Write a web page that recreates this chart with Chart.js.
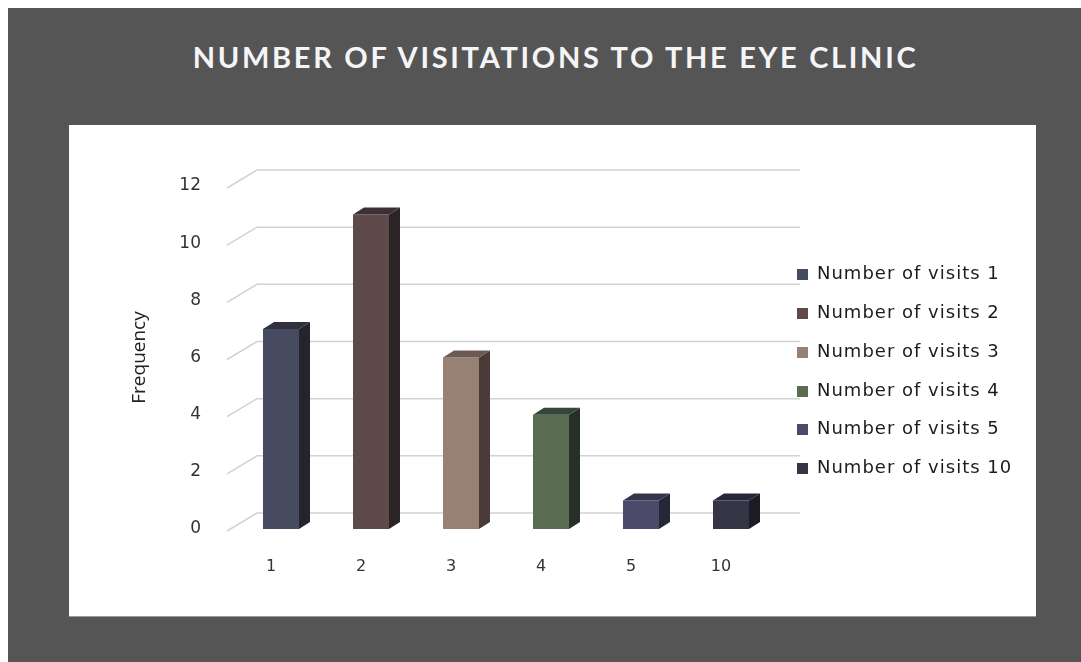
<!DOCTYPE html>
<html>
<head>
<meta charset="utf-8">
<script src="https://cdn.jsdelivr.net/npm/chart.js@4"></script>
<style>
  html, body { margin: 0; padding: 0; background: #fff; }
  #bg { position: absolute; left: 8px; top: 8px; width: 1073px; height: 654px; background: #555555; }
  #panel { position: absolute; left: 69px; top: 125px; width: 967px; height: 491px; background: #fff; border-bottom: 1px solid #9a9a9a; }
  #title { position: absolute; left: 0; width: 1111px; top: 39px; text-align: center; color: #f5f5f8;
           font: bold 29px Lato, sans-serif; letter-spacing: 2.7px; }
  #wrap { position: absolute; left: 0; top: 0; width: 1081px; height: 662px; }
  #legend { position: absolute; left: 797px; top: 0; font: 18px "DejaVu Sans", sans-serif; letter-spacing: 1px; color: #1c1c1c; }
  #legend div { position: absolute; white-space: nowrap; height: 24px; line-height: 24px; }
  #legend span { display: inline-block; width: 11px; height: 11px; margin-right: 9px; vertical-align: -1px; }
</style>
</head>
<body>
<div id="bg"></div>
<div id="panel"></div>
<div id="title">NUMBER OF VISITATIONS TO THE EYE CLINIC</div>
<div id="wrap"><canvas id="barChart" width="1081" height="662"></canvas></div>
<div id="legend"></div>
<script>
const categories = ["1", "2", "3", "4", "5", "10"];
const frequency = [7, 11, 6, 4, 1, 1];
const legendLabels = categories.map((c) => "Number of visits " + c);
const yTicks = [0, 2, 4, 6, 8, 10, 12];

// front / side / top faces of each bar
const frontColors = ["#464b5f", "#5f4a4b", "#978172", "#5a6d53", "#4b4b69", "#363546"];
const sideColors = ["#23242e", "#2b2326", "#4a3b39", "#263027", "#262636", "#1d1c26"];
const topColors = ["#2f3140", "#3d3032", "#6c5a52", "#35453a", "#34344a", "#27263a"];

// fake 3d: bar depth and back wall depth
const barDepth = { x: 11, y: 7 };
const wallDepth = { x: 30, y: 16 };

const threeD = {
  id: "threeD",
  beforeDatasetsDraw(chart) {
    const { ctx, chartArea } = chart;
    const y = chart.scales.y;
    ctx.save();
    ctx.strokeStyle = "#d2d2d2";
    ctx.lineWidth = 1.5;
    yTicks.forEach((v) => {
      const py = y.getPixelForValue(v);
      ctx.beginPath();
      ctx.moveTo(chartArea.left - 9, py + 2);
      ctx.lineTo(chartArea.left - 9 + wallDepth.x, py - wallDepth.y);
      ctx.lineTo(chartArea.right + 24, py - wallDepth.y);
      ctx.stroke();
    });
    ctx.restore();
  },
  afterDatasetsDraw(chart) {
    const { ctx } = chart;
    ctx.save();
    chart.getDatasetMeta(0).data.forEach((bar, i) => {
      const { x, y, base, width } = bar.getProps(["x", "y", "base", "width"], true);
      const l = x - width / 2;
      const r = x + width / 2;
      ctx.fillStyle = sideColors[i];
      ctx.beginPath();
      ctx.moveTo(r, y);
      ctx.lineTo(r + barDepth.x, y - barDepth.y);
      ctx.lineTo(r + barDepth.x, base - barDepth.y);
      ctx.lineTo(r, base);
      ctx.closePath();
      ctx.fill();
      ctx.fillStyle = topColors[i];
      ctx.beginPath();
      ctx.moveTo(l, y);
      ctx.lineTo(l + barDepth.x, y - barDepth.y);
      ctx.lineTo(r + barDepth.x, y - barDepth.y);
      ctx.lineTo(r, y);
      ctx.closePath();
      ctx.fill();
    });
    ctx.restore();
  },
};

const ctxBar = document.getElementById("barChart").getContext("2d");
new Chart(ctxBar, {
  type: "bar",
  data: {
    labels: categories,
    datasets: [
      {
        label: "Frequency",
        data: frequency,
        backgroundColor: frontColors,
        borderWidth: 0,
        categoryPercentage: 1,
        barPercentage: 0.4,
      },
    ],
  },
  options: {
    responsive: false,
    animation: false,
    layout: { padding: { left: 100, right: 305, top: 186, bottom: 73 } },
    plugins: { legend: { display: false }, tooltip: { enabled: false } },
    scales: {
      x: {
        grid: { display: false, drawTicks: false },
        border: { display: false },
        ticks: { color: "#333", font: { family: "DejaVu Sans", size: 16 }, padding: 28, labelOffset: -10 },
        afterFit: (s) => { s.height = 60; },
      },
      y: {
        min: 0,
        max: 12,
        afterBuildTicks: (s) => { s.ticks = yTicks.map((v) => ({ value: v })); },
        grid: { display: false, drawTicks: false },
        border: { display: false },
        ticks: { color: "#333", font: { family: "DejaVu Sans", size: 17 }, padding: 35 },
        title: {
          display: true,
          text: "Frequency",
          color: "#222",
          font: { family: "Open Sans", size: 19 },
          padding: { top: 28, bottom: 0 },
        },
        afterFit: (s) => { s.width = 136; },
      },
    },
  },
  plugins: [threeD],
});

// legend built from the same arrays
const legendTops = [273, 312, 351, 390, 428, 467];
const legendEl = document.getElementById("legend");
legendLabels.forEach((text, i) => {
  const item = document.createElement("div");
  item.style.top = legendTops[i] - 12 + "px";
  item.innerHTML = '<span style="background:' + frontColors[i] + '"></span>' + text;
  legendEl.appendChild(item);
});
</script>
</body>
</html>
